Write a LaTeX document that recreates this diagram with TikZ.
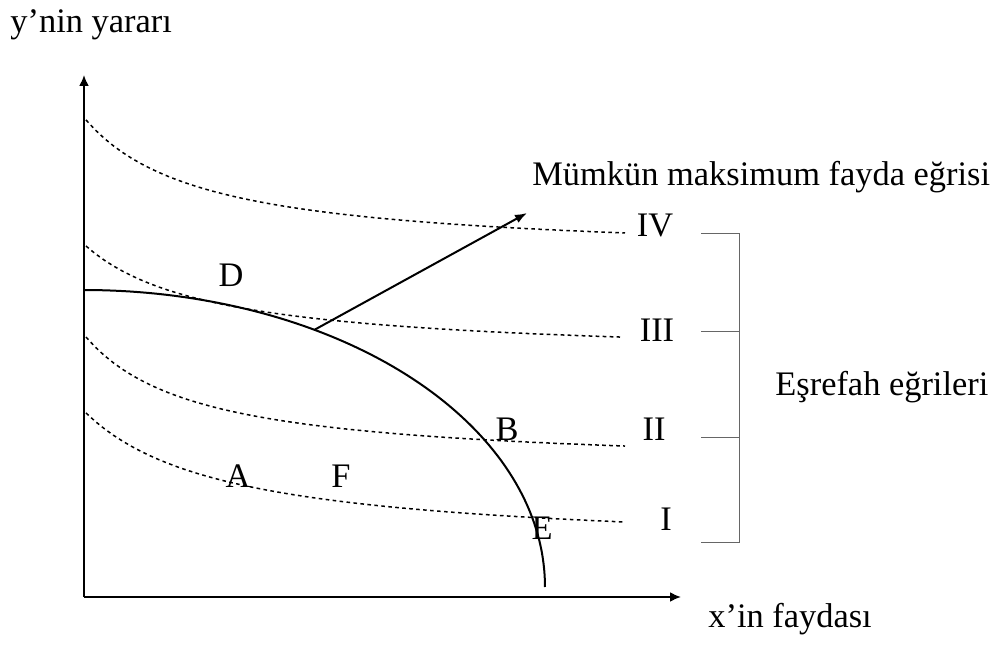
\documentclass[tikz,border=0pt]{standalone}
\usepackage{fontspec}
\setmainfont{Liberation Serif}
\usepackage{tikz}
\usetikzlibrary{arrows.meta}

\begin{document}
\begin{tikzpicture}[x=0.5pt, y=-0.5pt,
    every node/.style={font=\fontsize{17.2}{21}\selectfont, inner sep=0pt},
    axis/.style={line width=1pt, -{Latex[length=5.5pt, width=5pt]}},
    indiff/.style={line width=0.75pt, dash pattern=on 1.8pt off 1.7pt},
    frontier/.style={line width=1pt},
    bracketline/.style={line width=0.35pt, gray!80!black}]
    \useasboundingbox (0,0) rectangle (1006,646);

    % axes
    \coordinate (O) at (84,597);
    \coordinate (ytop) at (84,75);
    \coordinate (xend) at (681,597);
    \draw[axis] (O) -- (ytop);
    \draw[axis] (O) -- (xend);
    \node[anchor=base west] (ylabel) at (10,33) {y’nin yararı};
    \node[anchor=base west] (xlabel) at (708,627) {x’in faydası};

    % indifference curves
    \draw[indiff] plot[domain=86:625, samples=60] (\x, {257.8-163.35/((\x+32.5)/100)});
    \draw[indiff] plot[domain=86:620, samples=60] (\x, {358.8-143.99/((\x+41.7)/100)});
    \draw[indiff] plot[domain=86:625, samples=60] (\x, {468.8-148.37/((\x+26.6)/100)});
    \draw[indiff] plot[domain=86:625, samples=60] (\x, {550.8-196.25/((\x+56.4)/100)});

    % utility possibility frontier
    \draw[frontier] plot[domain=90:0, samples=80, variable=\t] ({84+461*cos(\t)}, {587-297*sin(\t)});
    \coordinate (touch) at ({84+461*cos(60)}, {587-297*sin(60)});
    \coordinate (tip) at (527,213);
    \draw[line width=1pt, -{Latex[length=6pt, width=4.5pt]}] (touch) -- (tip);
    \node[anchor=base west] (fname) at (532,186) {Mümkün maksimum fayda eğrisi};

    % points
    \node (D) at (231,275) {D};
    \node (A) at (238,476) {A};
    \node (F) at (341,476) {F};
    \node (B) at (507,429) {B};
    \node (E) at (542,528) {E};

    % curve numbers
    \node (IV) at (655,225) {IV};
    \node (III) at (657,330) {III};
    \node (II) at (654,429) {II};
    \node (I) at (666,519) {I};

    % bracket
    \draw[bracketline] (701,233) -- (739,233) -- (739,542) -- (701,542);
    \draw[bracketline] (701,331) -- (739,331);
    \draw[bracketline] (701,437) -- (739,437);
    \node[anchor=base west] (wlabel) at (775,395) {Eşrefah eğrileri};
\end{tikzpicture}
\end{document}
